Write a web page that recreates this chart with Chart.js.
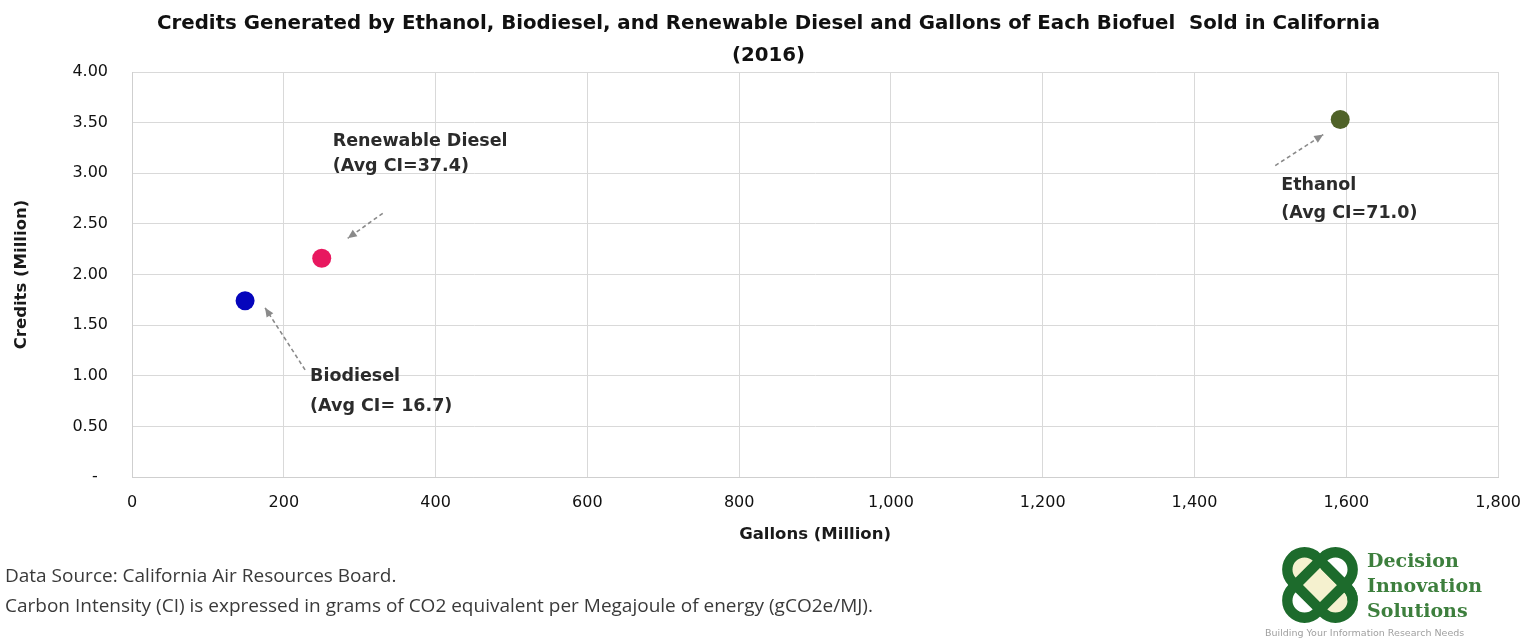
<!DOCTYPE html>
<html>
<head>
<meta charset="utf-8">
<title>Biofuel credits and gallons sold in California, 2016</title>
<script src="https://cdn.jsdelivr.net/npm/chart.js@4.4.1/dist/chart.umd.min.js"></script>
<style>
  html, body { margin: 0; padding: 0; background: #fff; }
  #wrap { position: relative; width: 1537px; height: 641px; overflow: hidden; }
  #c { position: absolute; left: 0; top: 0; }
  .note { position: absolute; left: 5px; font-family: 'Open Sans', sans-serif; font-size: 19px; line-height: 20px; color: #3a3a3a; white-space: nowrap; }
  #logo { position: absolute; left: 1260px; top: 544px; }
</style>
</head>
<body>
<div id="wrap">
  <canvas id="c" width="1537" height="641"></canvas>
  <div class="note" style="top:565px">Data Source: California Air Resources Board.</div>
  <div class="note" style="top:595px">Carbon Intensity (CI) is expressed in grams of CO2 equivalent per Megajoule of energy (gCO2e/MJ).</div>
  <svg id="logo" width="277" height="97" viewBox="0 0 277 97">
    <g transform="translate(60,41) scale(1.15)">
      <rect x="-34" y="-15" width="68" height="30" rx="15" transform="rotate(45)" fill="#f5f1cf" stroke="#1d6b2c" stroke-width="9"/>
      <rect x="-34" y="-15" width="68" height="30" rx="15" transform="rotate(-45)" fill="none" stroke="#1d6b2c" stroke-width="9"/>
      <rect x="-34" y="-15" width="68" height="30" rx="15" transform="rotate(45)" fill="none" stroke="#1d6b2c" stroke-width="9" stroke-dasharray="40 200" stroke-dashoffset="-10"/>
    </g>
    <g font-family="'DejaVu Serif', serif" font-weight="bold" font-size="19" fill="#3d7f3d">
      <text x="107" y="23">Decision</text>
      <text x="107" y="48">Innovation</text>
      <text x="107" y="73">Solutions</text>
    </g>
    <text x="5" y="92" font-family="'DejaVu Sans', sans-serif" font-size="9.5" fill="#a0a0a0">Building Your Information Research Needs</text>
  </svg>
</div>
<script>
// Fuels, in drawing order
const fuels = ['Biodiesel', 'Renewable Diesel', 'Ethanol'];
// Gallons sold in California in 2016 (million)
const gallonsMillion = [149, 250, 1592];
// LCFS credits generated (million)
const creditsMillion = [1.74, 2.16, 3.53];
// Average carbon intensity captions (gCO2e/MJ)
const ciCaptions = ['(Avg CI= 16.7)', '(Avg CI=37.4)', '(Avg CI=71.0)'];
const pointColors = ['#0505bc', '#e8185f', '#4f6228'];

const titleLines = [
  'Credits Generated by Ethanol, Biodiesel, and Renewable Diesel and Gallons of Each Biofuel  Sold in California',
  '(2016)'
];

// Callout placement, in pixels relative to each point
const callouts = [
  { dx: 65, dy: 76, gap: 30, from: [60, 69], to: [20, 7] },
  { dx: 11, dy: -117, gap: 25, from: [61, -45], to: [26, -20] },
  { dx: -59, dy: 66, gap: 28, from: [-65, 46], to: [-17, 15] }
];

const tickFont = { family: "'DejaVu Sans', sans-serif", size: 16 };
const axisTitleFont = { family: "'DejaVu Sans', sans-serif", size: 16.5, weight: 'bold' };

// Dashed arrows and two-line captions next to each point
const calloutPlugin = {
  id: 'callouts',
  afterDatasetsDraw(chart) {
    const ctx = chart.ctx;
    chart.data.datasets.forEach((ds, i) => {
      const pt = chart.getDatasetMeta(i).data[0];
      const c = callouts[i];
      ctx.save();
      // arrow shaft
      const x1 = pt.x + c.from[0], y1 = pt.y + c.from[1];
      const x2 = pt.x + c.to[0], y2 = pt.y + c.to[1];
      ctx.strokeStyle = '#8a8a8a';
      ctx.fillStyle = '#8a8a8a';
      ctx.lineWidth = 1.6;
      ctx.setLineDash([4, 3]);
      ctx.beginPath();
      ctx.moveTo(x1, y1);
      ctx.lineTo(x2, y2);
      ctx.stroke();
      ctx.setLineDash([]);
      // arrow head
      const a = Math.atan2(y2 - y1, x2 - x1);
      const L = 9, W = 4;
      ctx.beginPath();
      ctx.moveTo(x2, y2);
      ctx.lineTo(x2 - L * Math.cos(a) + W * Math.sin(a), y2 - L * Math.sin(a) - W * Math.cos(a));
      ctx.lineTo(x2 - L * Math.cos(a) - W * Math.sin(a), y2 - L * Math.sin(a) + W * Math.cos(a));
      ctx.closePath();
      ctx.fill();
      // caption
      ctx.fillStyle = '#2b2b2b';
      ctx.font = "bold 17.5px 'DejaVu Sans', sans-serif";
      ctx.textAlign = 'left';
      ctx.textBaseline = 'middle';
      ctx.fillText(ds.label, pt.x + c.dx, pt.y + c.dy);
      ctx.fillText(ciCaptions[i], pt.x + c.dx, pt.y + c.dy + c.gap);
      ctx.restore();
    });
  }
};

// Centre the title on the whole canvas rather than the padded box
const centreTitle = {
  id: 'centreTitle',
  afterLayout(chart) {
    const t = chart.titleBlock;
    if (t) { t.left = 0; t.right = chart.width; t.width = chart.width; }
  }
};

new Chart(document.getElementById('c'), {
  type: 'scatter',
  data: {
    datasets: fuels.map((name, i) => ({
      label: name,
      data: [{ x: gallonsMillion[i], y: creditsMillion[i] }],
      backgroundColor: pointColors[i],
      borderColor: pointColors[i],
      borderWidth: 0,
      pointRadius: 9.5,
      pointHoverRadius: 9.5
    }))
  },
  options: {
    responsive: false,
    animation: false,
    devicePixelRatio: 1,
    layout: { padding: { left: 0, right: 37, top: 0, bottom: 94 } },
    plugins: {
      legend: { display: false },
      tooltip: { enabled: false },
      title: {
        display: true,
        text: titleLines,
        color: '#111',
        font: { family: "'DejaVu Sans', sans-serif", size: 19.8, weight: 'bold', lineHeight: 32 / 19.8 },
        padding: { top: 8, bottom: 0 }
      }
    },
    scales: {
      x: {
        type: 'linear',
        min: 0,
        max: 1800,
        ticks: {
          stepSize: 200,
          padding: 16,
          color: '#111',
          font: tickFont,
          callback: v => v.toLocaleString('en-US')
        },
        grid: { color: '#d9d9d9', drawTicks: false },
        border: { color: '#cfcfcf' },
        title: {
          display: true,
          text: 'Gallons (Million)',
          color: '#1a1a1a',
          font: axisTitleFont,
          padding: { top: 0, bottom: 2 }
        },
        afterFit(s) { s.height = 70; }
      },
      y: {
        type: 'linear',
        min: 0,
        max: 4,
        ticks: {
          stepSize: 0.5,
          padding: 24,
          color: '#111',
          font: tickFont,
          callback: v => (v === 0 ? '-  ' : v.toFixed(2))
        },
        grid: { color: '#d9d9d9', drawTicks: false },
        border: { color: '#cfcfcf' },
        title: {
          display: true,
          text: 'Credits (Million)',
          color: '#1a1a1a',
          font: axisTitleFont,
          padding: { top: 12, bottom: 0 }
        },
        afterFit(s) { s.width = 132; }
      }
    }
  },
  plugins: [calloutPlugin, centreTitle]
});
</script>
</body>
</html>
